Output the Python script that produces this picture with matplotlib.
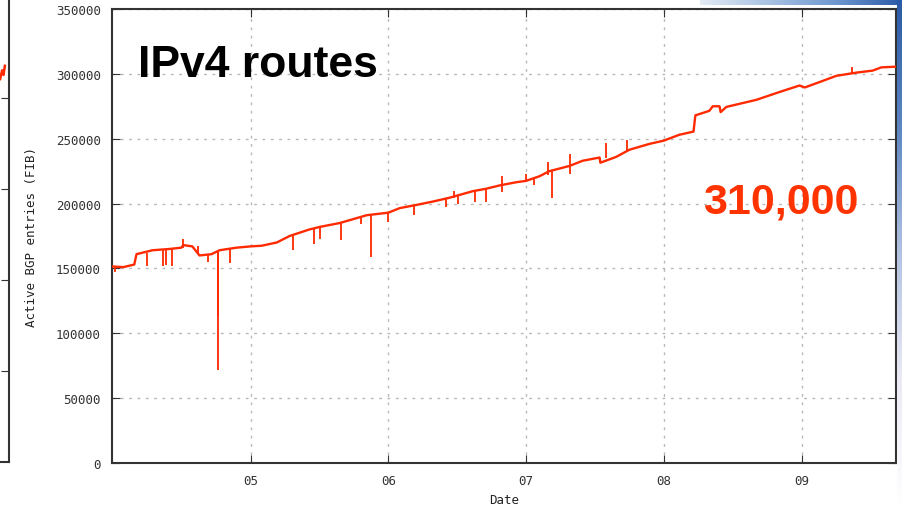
import numpy as np
import pandas as pd
import matplotlib
matplotlib.use('Agg')
import matplotlib.pyplot as plt
import matplotlib.dates as mdates

# base trend of active BGP entries
base_dates = ['2004-01-01', '2004-01-29', '2004-02-27', '2004-03-04', '2004-04-15',
              '2004-05-30', '2004-07-01', '2004-07-06', '2004-07-30', '2004-08-18',
              '2004-09-19', '2004-10-10', '2004-11-24', '2005-01-01', '2005-01-30',
              '2005-03-11', '2005-04-14', '2005-06-05', '2005-07-03', '2005-08-25',
              '2005-11-04', '2006-01-01', '2006-01-31', '2006-03-17', '2006-04-28',
              '2006-06-12', '2006-08-12', '2006-09-18', '2006-10-23', '2006-12-07',
              '2007-01-01', '2007-02-05', '2007-03-04', '2007-04-26', '2007-05-31',
              '2007-07-15', '2007-07-17', '2007-08-28', '2007-10-02', '2007-11-24',
              '2008-01-01', '2008-02-11', '2008-03-20', '2008-03-25', '2008-05-01',
              '2008-05-10', '2008-05-28', '2008-05-31', '2008-06-15', '2008-09-03',
              '2008-11-03', '2008-12-26', '2009-01-09', '2009-02-25', '2009-04-03',
              '2009-05-27', '2009-07-08', '2009-07-31', '2009-09-07']
base_values = [151500, 151000, 153000, 161000, 164000,
               165000, 166000, 168000, 167000, 160000,
               161000, 164000, 166000, 167000, 167500,
               170000, 175000, 180000, 182000, 185000,
               191000, 193000, 196500, 199000, 201500,
               204500, 209500, 211500, 214000, 216500,
               217500, 221000, 225000, 229000, 233000,
               235500, 231500, 236000, 241500, 246000,
               248500, 253000, 255500, 268000, 271500,
               275000, 275000, 270500, 274500, 280000,
               286000, 291000, 289500, 294500, 298500,
               301000, 302500, 305000, 305500]

# short glitches (date, low, high)
spike_dates = ['2004-01-08', '2004-03-31', '2004-05-12', '2004-05-20', '2004-06-05',
               '2004-07-06', '2004-08-13', '2004-09-09', '2004-10-05', '2004-10-07',
               '2004-11-06', '2005-04-22', '2005-06-17', '2005-07-03', '2005-08-28',
               '2005-10-21', '2005-11-17', '2006-01-01', '2006-03-11', '2006-06-04',
               '2006-06-25', '2006-07-04', '2006-08-19', '2006-09-16', '2006-10-30',
               '2007-01-02', '2007-01-23', '2007-02-27', '2007-03-12', '2007-04-28',
               '2007-08-02', '2007-09-26', '2009-05-13']
spike_lows = [147000, 152000, 152000, 153000, 152000,
              166000, 161500, 155000, 71500, 113000,
              154000, 164000, 168500, 173000, 172000,
              184000, 159000, 186000, 191000, 197500,
              204500, 200000, 201500, 201500, 209000,
              217000, 214000, 222000, 204500, 223000,
              235000, 240000, 300500]
spike_highs = [151000, 162000, 165000, 165000, 165000,
               173000, 167000, 161000, 163000, 163000,
               165000, 175000, 181000, 182000, 185000,
               190000, 191500, 193000, 199000, 204000,
               210000, 206000, 210000, 211500, 221000,
               223000, 219000, 232000, 226000, 238500,
               247000, 249000, 305500]

y_ticks = [0, 50000, 100000, 150000, 200000, 250000, 300000, 350000]

red = '#ff2a00'
W, H = 903, 510

fig = plt.figure(figsize=(W / 100, H / 100), dpi=100)
fig.patch.set_facecolor('white')

# edge of the neighbouring chart on the left
ax0 = fig.add_axes([-60 / W, 47 / H, 69 / W, 480 / H])
ax0.plot([0.80, 0.87, 0.90, 0.92, 0.94], [4.3, 4.2, 4.3, 4.25, 4.35], color=red, lw=1.8)
ax0.set_xlim(0, 1)
ax0.set_ylim(0, 5.27)
for s in ['top', 'left']:
    ax0.spines[s].set_visible(False)
for s in ['right', 'bottom']:
    ax0.spines[s].set_color('#333333')
    ax0.spines[s].set_linewidth(1.5)
ax0.set_xticks([])
ax0.yaxis.tick_right()
ax0.set_yticks([1, 2, 3, 4])
ax0.tick_params(axis='y', direction='in', length=6, labelright=False, color='#333333')

ax = fig.add_axes([112 / W, 46 / H, 784 / W, 454 / H])
x_base = pd.to_datetime(base_dates)
x_spike = pd.to_datetime(spike_dates)
ax.plot(x_base, base_values, color=red, lw=1.7, zorder=3)
ax.vlines(x_spike, spike_lows, spike_highs, color=red, lw=1.3, zorder=3)

ax.set_xlim(pd.Timestamp('2003-12-30'), pd.Timestamp('2009-09-08'))
ax.set_ylim(0, 350000)
ax.set_yticks(y_ticks)
ax.set_yticklabels([str(v) for v in y_ticks])
ax.xaxis.set_major_formatter(mdates.DateFormatter('%y'))
# first year tick (04) sits on the left edge and isn't labelled
ax.set_xticks(pd.to_datetime(['2005-01-01', '2006-01-01', '2007-01-01',
                              '2008-01-01', '2009-01-01']))

mono = 'DejaVu Sans Mono'
ax.tick_params(direction='in', length=6, top=True, right=True, color='#333333',
               labelcolor='#333333', labelsize=9, pad=8)
for lab in ax.get_xticklabels() + ax.get_yticklabels():
    lab.set_family(mono)
ax.grid(True, color='#b8b8b8', linestyle=(0, (2, 4)), lw=1)
for s in ax.spines.values():
    s.set_color('#333333')
    s.set_linewidth(1.5)

ax.set_xlabel('Date', family=mono, fontsize=9, color='#222222', labelpad=4)
ax.set_ylabel('Active BGP entries (FIB)', family=mono, fontsize=9,
              color='#222222', labelpad=13)

ax.text(26 / 784, 1 - 67 / 454, 'IPv4 routes', transform=ax.transAxes,
        family='Liberation Sans', weight='bold', fontsize=32, color='black',
        va='baseline', ha='left', zorder=5)
ax.text(591 / 784, 1 - 203 / 454, '310,000', transform=ax.transAxes,
        family='Liberation Sans', weight='bold', fontsize=31, color='#ff3300',
        va='baseline', ha='left', zorder=5)

# blue slide decoration at top and right edge
top_grad = np.linspace(0, 1, 200).reshape(1, -1)
axt = fig.add_axes([700 / W, 1 - 6 / H, 203 / W, 6 / H])
axt.imshow(top_grad, aspect='auto', cmap=matplotlib.colors.LinearSegmentedColormap.from_list(
    'topb', ['#e4ebf5', '#a9c3e3', '#6f98cf', '#2b5aa6']))
axt.axis('off')
right_grad = np.linspace(0, 1, 200).reshape(-1, 1)
axr = fig.add_axes([897 / W, 0, 6 / W, 1])
axr.imshow(right_grad, aspect='auto', cmap=matplotlib.colors.LinearSegmentedColormap.from_list(
    'rightb', ['#2b5aa6', '#5d86c2', '#b3c3e2', '#ebeaf5', '#ffffff']))
axr.axis('off')

fig.savefig('out.png', dpi=100)
